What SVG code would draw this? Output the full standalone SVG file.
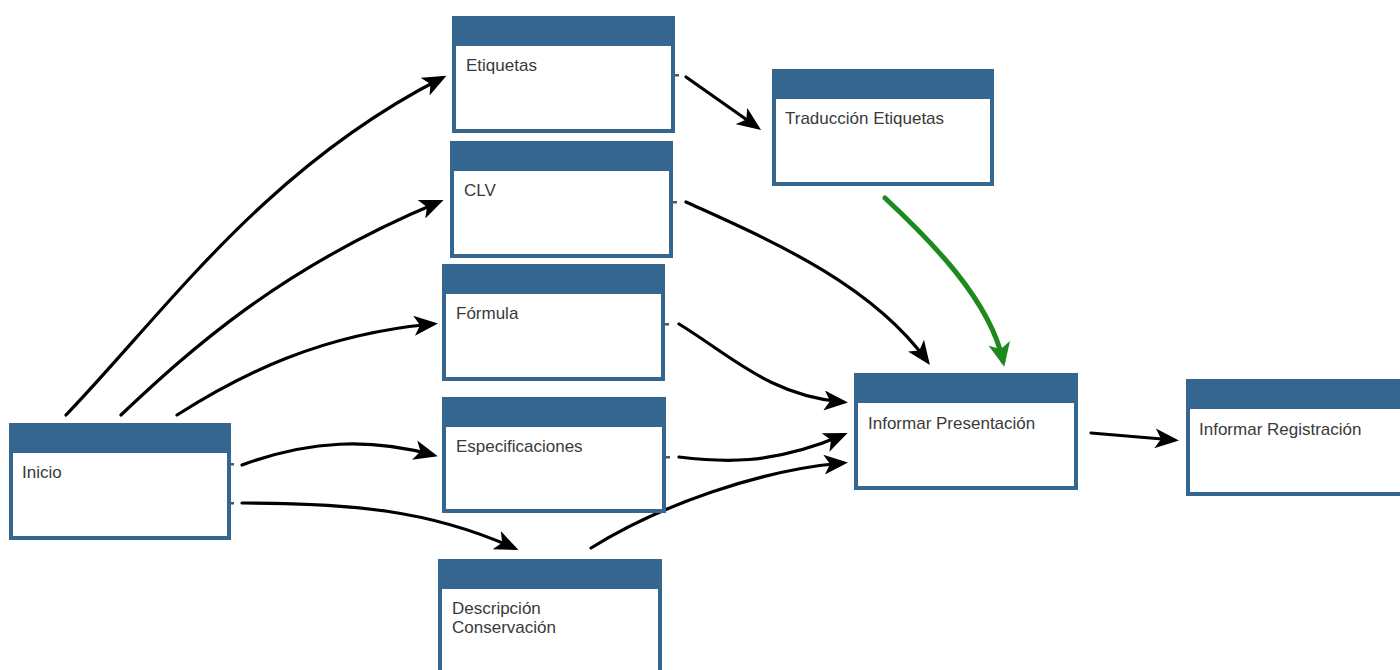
<svg xmlns="http://www.w3.org/2000/svg" width="1400" height="670" viewBox="0 0 1400 670">
<style>
.box{fill:#ffffff;stroke:#356690;stroke-width:4}
.hdr{fill:#356690}
.lbl{font-family:"Liberation Sans",Arial,sans-serif;font-size:17px;fill:#3a3a3a}
.c{fill:none;stroke:#000;stroke-width:3.2;stroke-linecap:round}
.g{fill:none;stroke:#1e8a1e;stroke-width:5;stroke-linecap:round}
.port{fill:#555}
</style>
<defs>
<marker id="ah" viewBox="0 0 24 20" refX="19" refY="10" markerWidth="24" markerHeight="20" markerUnits="userSpaceOnUse" orient="auto">
<path d="M0,0 L24,10 L0,20 L6,10 z" fill="#000"/>
</marker>
<marker id="ahg" viewBox="0 0 24 22" refX="18" refY="11" markerWidth="24" markerHeight="22" markerUnits="userSpaceOnUse" orient="auto">
<path d="M0,0 L24,11 L0,22 L6,11 z" fill="#1e8a1e"/>
</marker>
</defs>
<rect width="1400" height="670" fill="#ffffff"/>

<g id="connectors">
<path class="c" marker-end="url(#ah)" d="M66,415 C165,312 265,168 442,78"/>
<path class="c" marker-end="url(#ah)" d="M121,415 C190,350 280,268 439,202"/>
<path class="c" marker-end="url(#ah)" d="M177,415 C240,375 320,334 433,324"/>
<path class="c" marker-end="url(#ah)" d="M242,465 C310,440 370,438 433,455"/>
<path class="c" marker-end="url(#ah)" d="M242,503 C350,503 430,510 514,548"/>
<path class="c" marker-end="url(#ah)" d="M686,77 L757,127"/>
<path class="c" marker-end="url(#ah)" d="M686,202 C765,238 870,282 927,361"/>
<path class="c" marker-end="url(#ah)" d="M679,324 C730,355 770,396 843,402"/>
<path class="c" marker-end="url(#ah)" d="M679,457 C720,462 770,466 843,435"/>
<path class="c" marker-end="url(#ah)" d="M591,548 C660,505 760,470 843,463"/>
<path class="c" marker-end="url(#ah)" d="M1091,433 L1174,440"/>
<path class="g" marker-end="url(#ahg)" d="M885,198 C930,240 990,300 1003,361"/>
<rect class="port" x="230" y="463" width="4" height="2.5"/>
<rect class="port" x="230" y="502" width="4" height="2.5"/>
<rect class="port" x="675" y="74" width="4" height="2.5"/>
<rect class="port" x="673" y="201" width="4" height="2.5"/>
<rect class="port" x="665" y="323" width="4" height="2.5"/>
<rect class="port" x="666" y="456" width="4" height="2.5"/>
</g>

<g id="node-inicio">
<rect class="box" x="11" y="425" width="218" height="113"/>
<rect class="hdr" x="9" y="423" width="222" height="30"/>
<text class="lbl" x="22" y="478">Inicio</text>
</g>
<g id="node-etiquetas">
<rect class="box" x="454" y="18" width="219" height="113"/>
<rect class="hdr" x="452" y="16" width="223" height="30"/>
<text class="lbl" x="466" y="71">Etiquetas</text>
</g>
<g id="node-clv">
<rect class="box" x="452" y="143" width="219" height="113"/>
<rect class="hdr" x="450" y="141" width="223" height="30"/>
<text class="lbl" x="464" y="196">CLV</text>
</g>
<g id="node-formula">
<rect class="box" x="444" y="266" width="219" height="113"/>
<rect class="hdr" x="442" y="264" width="223" height="30"/>
<text class="lbl" x="456" y="319">Fórmula</text>
</g>
<g id="node-especificaciones">
<rect class="box" x="444" y="399" width="220" height="112"/>
<rect class="hdr" x="442" y="397" width="224" height="30"/>
<text class="lbl" x="456" y="452">Especificaciones</text>
</g>
<g id="node-descripcion">
<rect class="box" x="440" y="561" width="220" height="120"/>
<rect class="hdr" x="438" y="559" width="224" height="30"/>
<text class="lbl" x="452" y="614">Descripción</text>
<text class="lbl" x="452" y="633">Conservación</text>
</g>
<g id="node-traduccion">
<rect class="box" x="774" y="71" width="218" height="113"/>
<rect class="hdr" x="772" y="69" width="222" height="30"/>
<text class="lbl" x="785" y="124">Traducción Etiquetas</text>
</g>
<g id="node-informar-presentacion">
<rect class="box" x="856" y="375" width="220" height="113"/>
<rect class="hdr" x="854" y="373" width="224" height="30"/>
<text class="lbl" x="868" y="429">Informar Presentación</text>
</g>
<g id="node-informar-registracion">
<rect class="box" x="1188" y="381" width="230" height="113"/>
<rect class="hdr" x="1186" y="379" width="234" height="30"/>
<text class="lbl" x="1199" y="435">Informar Registración</text>
</g>
</svg>
